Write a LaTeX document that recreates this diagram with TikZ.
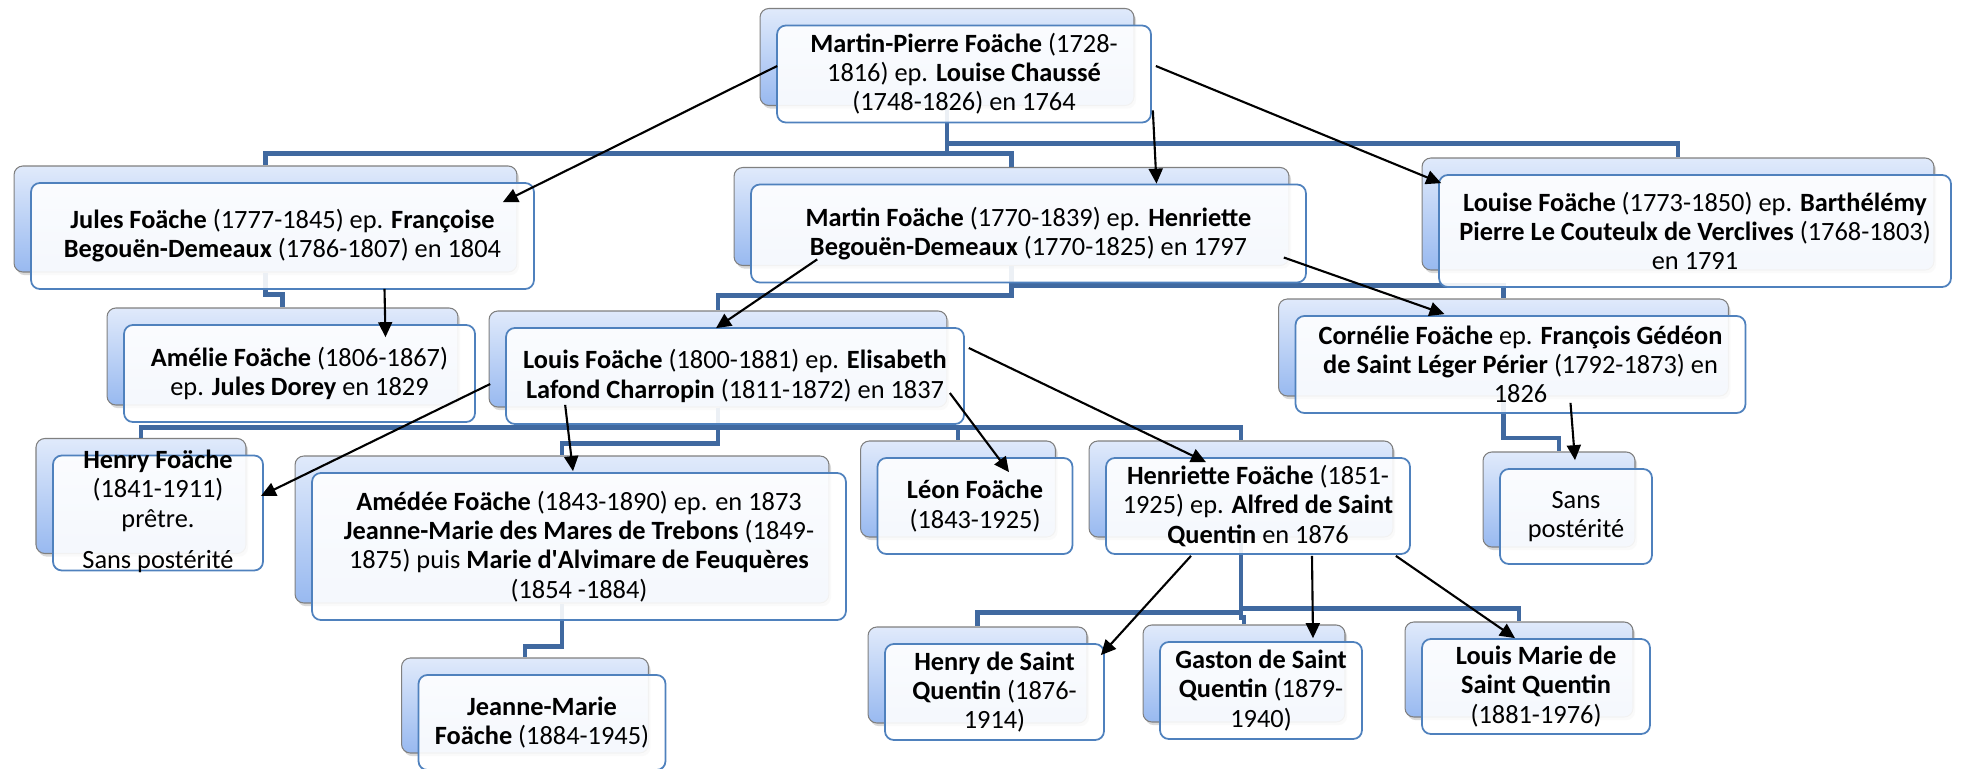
\documentclass[tikz,border=0pt]{standalone}
\usepackage{fontspec}
\setmainfont{Carlito}
\usepackage{tikz}
\usetikzlibrary{arrows.meta, calc, shadows}
\definecolor{boxtop}{RGB}{224,234,251}
\definecolor{boxbot}{RGB}{152,185,240}
\definecolor{boxgray}{RGB}{128,128,128}
\definecolor{boxblue}{RGB}{79,129,189}
\definecolor{linkblue}{RGB}{64,105,160}
\tikzset{
  backbox/.style={rectangle, draw=boxgray, top color=boxtop, bottom color=boxbot,
    rounded corners=5pt, line width=0.6pt,
    drop shadow={shadow xshift=1.2pt, shadow yshift=-1.8pt, opacity=0.3}},
  frontbox/.style={rectangle, draw=boxblue, fill=white, fill opacity=0.9, text opacity=1,
    align=center, inner sep=1pt, rounded corners=5pt, line width=1pt,
    font=\fontsize{15}{16.6}\selectfont},
  link/.style={line width=2.8pt, color=linkblue},
  arrow/.style={-{Triangle[length=0.3cm, width=0.28cm]}, line width=1.2pt, color=black}
}

\begin{document}
\begin{tikzpicture}[x=0.02cm, y=-0.02cm]
  \useasboundingbox (0,0) rectangle (1964,768);
  % Back boxes
  \node[backbox, minimum width=7.48cm, minimum height=1.94cm] (mpB) at (947,57) {};
  \node[backbox, minimum width=10.06cm, minimum height=2.12cm] (julesB) at (265.5,219) {};
  \node[backbox, minimum width=11.1cm, minimum height=1.96cm] (martinB) at (1011.5,216.5) {};
  \node[backbox, minimum width=10.24cm, minimum height=2.24cm] (louiseB) at (1678,214) {};
  \node[backbox, minimum width=7.02cm, minimum height=1.94cm] (amelieB) at (282.5,356.5) {};
  \node[backbox, minimum width=9.16cm, minimum height=1.92cm] (louisB) at (718,359) {};
  \node[backbox, minimum width=9cm, minimum height=1.94cm] (cornelieB) at (1503.5,347.5) {};
  \node[backbox, minimum width=4.2cm, minimum height=2.3cm] (henryB) at (141,496) {};
  \node[backbox, minimum width=10.68cm, minimum height=2.94cm] (amedeeB) at (562,529.5) {};
  \node[backbox, minimum width=3.9cm, minimum height=1.92cm] (leonB) at (958,489) {};
  \node[backbox, minimum width=6.08cm, minimum height=1.92cm] (henrietteB) at (1241,489) {};
  \node[backbox, minimum width=3.04cm, minimum height=1.9cm] (sansB) at (1559,499.5) {};
  \node[backbox, minimum width=4.94cm, minimum height=1.9cm] (jeanneB) at (525,705.5) {};
  \node[backbox, minimum width=4.38cm, minimum height=1.92cm] (henrysqB) at (977.5,675) {};
  \node[backbox, minimum width=4.04cm, minimum height=1.94cm] (gastonB) at (1244,673.5) {};
  \node[backbox, minimum width=4.56cm, minimum height=1.9cm] (louismarieB) at (1519,669.5) {};
  % Tree links
  \draw[link] (mpB.south) -- ++(0,47.5) -| (julesB.north);
  \draw[link] (mpB.south) -- ++(0,47.5) -| (martinB.north);
  \draw[link] (mpB.south) -- ++(0,37.5) -| (louiseB.north);
  \draw[link] (julesB.south) -- ++(0,22) -| (amelieB.north);
  \draw[link] (martinB.south) -- ++(0,29.5) -| (louisB.north);
  \draw[link] (martinB.south) -- ++(0,19.5) -| (cornelieB.north);
  \draw[link] (louisB.south) -- ++(0,20) -| (henryB.north);
  \draw[link] (louisB.south) -- ++(0,36) -| (amedeeB.north);
  \draw[link] (louisB.south) -- ++(0,20) -| (leonB.north);
  \draw[link] (louisB.south) -- ++(0,20) -| (henrietteB.north);
  \draw[link] (cornelieB.south) -- ++(0,41.5) -| (sansB.north);
  \draw[link] (amedeeB.south) -- ++(0,43) -| (jeanneB.north);
  \draw[link] (henrietteB.south) -- ++(0,75) -| (henrysqB.north);
  \draw[link] (henrietteB.south) -- ++(0,80) -| (gastonB.north);
  \draw[link] (henrietteB.south) -- ++(0,71) -| (louismarieB.north);
  % Front boxes
  \node[frontbox, minimum width=7.48cm, minimum height=1.94cm] (mp) at ($(mpB)+(17,17)$)
    {\textbf{Martin-Pierre Foäche} (1728-\\1816) ep. \textbf{Louise Chaussé}\\(1748-1826) en 1764};
  \node[frontbox, minimum width=10.06cm, minimum height=2.12cm] (jules) at ($(julesB)+(17,17)$)
    {\textbf{Jules Foäche} (1777-1845) ep. \textbf{Françoise}\\\textbf{Begouën-Demeaux} (1786-1807) en 1804};
  \node[frontbox, minimum width=11.1cm, minimum height=1.96cm] (martin) at ($(martinB)+(17,17)$)
    {\textbf{Martin Foäche} (1770-1839) ep. \textbf{Henriette}\\\textbf{Begouën-Demeaux} (1770-1825) en 1797};
  \node[frontbox, minimum width=10.24cm, minimum height=2.24cm] (louise) at ($(louiseB)+(17,17)$)
    {\textbf{Louise Foäche} (1773-1850) ep. \textbf{Barthélémy}\\\textbf{Pierre Le Couteulx de Verclives} (1768-1803)\\en 1791};
  \node[frontbox, minimum width=7.02cm, minimum height=1.94cm] (amelie) at ($(amelieB)+(17,17)$)
    {\textbf{Amélie Foäche} (1806-1867)\\ep. \textbf{Jules Dorey} en 1829};
  \node[frontbox, minimum width=9.16cm, minimum height=1.92cm] (louis) at ($(louisB)+(17,17)$)
    {\textbf{Louis Foäche} (1800-1881) ep. \textbf{Elisabeth}\\\textbf{Lafond Charropin} (1811-1872) en 1837};
  \node[frontbox, minimum width=9cm, minimum height=1.94cm] (cornelie) at ($(cornelieB)+(17,17)$)
    {\textbf{Cornélie Foäche} ep. \textbf{François Gédéon}\\\textbf{de Saint Léger Périer} (1792-1873) en\\1826};
  \node[frontbox, minimum width=4.2cm, minimum height=2.3cm] (henry) at ($(henryB)+(17,17)$)
    {\smash{\raisebox{-3.5pt}{\begin{tabular}{@{}c@{}}\textbf{Henry Foäche}\\(1841-1911)\\prêtre.\\[7pt]Sans postérité\end{tabular}}}};
  \node[frontbox, minimum width=10.68cm, minimum height=2.94cm] (amedee) at ($(amedeeB)+(17,17)$)
    {\textbf{Amédée Foäche} (1843-1890) ep. en 1873\\\textbf{Jeanne-Marie des Mares de Trebons} (1849-\\1875) puis \textbf{Marie d\textquotesingle Alvimare de Feuquères}\\(1854 -1884)};
  \node[frontbox, minimum width=3.9cm, minimum height=1.92cm] (leon) at ($(leonB)+(17,17)$)
    {\textbf{Léon Foäche}\\(1843-1925)};
  \node[frontbox, minimum width=6.08cm, minimum height=1.92cm] (henriette) at ($(henrietteB)+(17,17)$)
    {\textbf{Henriette Foäche} (1851-\\1925) ep. \textbf{Alfred de Saint}\\\textbf{Quentin} en 1876};
  \node[frontbox, minimum width=3.04cm, minimum height=1.9cm] (sans) at ($(sansB)+(17,17)$)
    {Sans\\postérité};
  \node[frontbox, minimum width=4.94cm, minimum height=1.9cm] (jeanne) at ($(jeanneB)+(17,17)$)
    {\textbf{Jeanne-Marie}\\\textbf{Foäche} (1884-1945)};
  \node[frontbox, minimum width=4.38cm, minimum height=1.92cm] (henrysq) at ($(henrysqB)+(17,17)$)
    {\textbf{Henry de Saint}\\\textbf{Quentin} (1876-\\1914)};
  \node[frontbox, minimum width=4.04cm, minimum height=1.94cm] (gaston) at ($(gastonB)+(17,17)$)
    {\textbf{Gaston de Saint}\\\textbf{Quentin} (1879-\\1940)};
  \node[frontbox, minimum width=4.56cm, minimum height=1.9cm] (louismarie) at ($(louismarieB)+(17,17)$)
    {\textbf{Louis Marie de}\\\textbf{Saint Quentin}\\(1881-1976)};
  % Arrows
  \draw[arrow] ($(mp.west)+(1,-8)$) -- ($(jules.north east)+(-32,20)$);
  \draw[arrow] ($(mp.south east)+(1,-13)$) -- ($(martin.north)+(128,0)$);
  \draw[arrow] ($(mp.east)+(4,-8)$) -- ($(louise.north west)+(3,9)$);
  \draw[arrow] ($(jules.south)+(102,-1)$) -- ($(amelie.north)+(86,13)$);
  \draw[arrow] ($(martin.south west)+(67,-24)$) -- ($(louis.north)+(-19,1)$);
  \draw[arrow] ($(martin.east)+(-23,24)$) -- ($(cornelie.north)+(-76,-1)$);
  \draw[arrow] ($(louis.west)+(-15,8)$) -- ($(henry.east)+(-3,-17)$);
  \draw[arrow] ($(louis.south west)+(60,-20)$) -- ($(amedee.north)+(-6,-1)$);
  \draw[arrow] ($(louis.east)+(-15,17)$) -- ($(leon.north)+(34,15)$);
  \draw[arrow] ($(louis.east)+(4,-28)$) -- ($(henriette.north)+(-52,5)$);
  \draw[arrow] ($(cornelie.south)+(50,-11)$) -- ($(sans.north)+(-1,-8)$);
  \draw[arrow] ($(henriette.south)+(-67,1)$) -- ($(henrysq.north east)+(-4,12)$);
  \draw[arrow] ($(henriette.south)+(54,1)$) -- ($(gaston.north)+(52,-3)$);
  \draw[arrow] ($(henriette.south east)+(-15,1)$) -- ($(louismarie.north)+(-21,0)$);
\end{tikzpicture}
\end{document}
